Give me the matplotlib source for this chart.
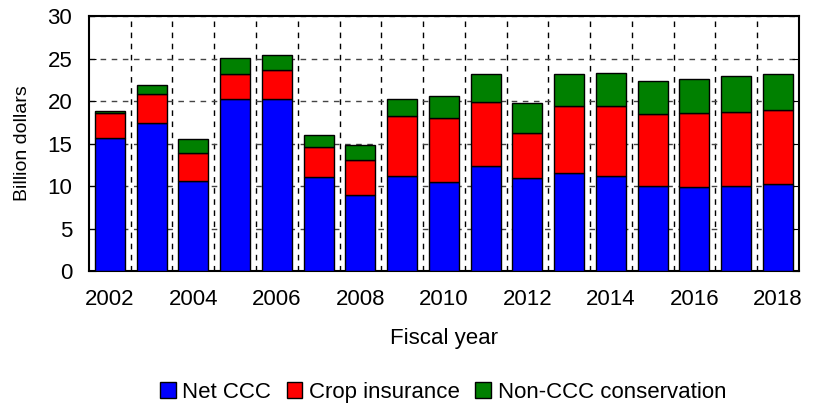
import numpy as np
import matplotlib.pyplot as plt
from matplotlib.ticker import MultipleLocator, FixedLocator

plt.rcParams['font.family'] = ['Liberation Sans', 'DejaVu Sans']

# Fiscal years and spending (billion dollars)
years = list(range(2002, 2019))
net_ccc = [15.65, 17.4, 10.6, 20.2, 20.2, 11.05, 9.0, 11.2, 10.5,
           12.4, 10.9, 11.5, 11.2, 10.0, 9.9, 10.0, 10.2]
crop_ins = [2.95, 3.4, 3.25, 3.0, 3.4, 3.55, 4.1, 7.05, 7.5,
            7.5, 5.3, 7.95, 8.25, 8.45, 8.7, 8.7, 8.7]
non_ccc = [0.25, 1.15, 1.65, 1.85, 1.8, 1.45, 1.75, 2.05, 2.6,
           3.3, 3.55, 3.75, 3.9, 3.9, 4.0, 4.2, 4.3]

fig = plt.figure(figsize=(8.16, 4.03), dpi=100)
ax = fig.add_axes([0.109, 0.3275, 0.870, 0.6325])

x = np.arange(len(years))
w = 0.72
b1 = np.array(net_ccc)
b2 = b1 + np.array(crop_ins)
ax.bar(x, net_ccc, w, color='#0000ff', edgecolor='black', linewidth=1, label='Net CCC', zorder=3)
ax.bar(x, crop_ins, w, bottom=b1, color='#ff0000', edgecolor='black', linewidth=1, label='Crop insurance', zorder=3)
ax.bar(x, non_ccc, w, bottom=b2, color='#008000', edgecolor='black', linewidth=1, label='Non-CCC conservation', zorder=3)

ax.set_xlim(-0.5, len(years) - 0.5)
ax.set_ylim(0, 30)
ax.yaxis.set_major_locator(MultipleLocator(5))
ax.set_xticks(x[::2])
ax.set_xticklabels([str(y) for y in years[::2]])
ax.xaxis.set_minor_locator(FixedLocator(x[:-1] + 0.5))

ax.grid(axis='y', which='major', linestyle=(0, (4, 4)), color='#444444', linewidth=1, zorder=0)
ax.grid(axis='x', which='minor', linestyle=(0, (4, 4)), color='black', linewidth=1, zorder=0)
ax.tick_params(axis='x', which='both', length=0, labelsize=16, pad=13)
ax.tick_params(axis='y', direction='in', length=5, right=True, labelsize=16, pad=12)

for s in ax.spines.values():
    s.set_linewidth(1.5)

ax.set_xlabel('Fiscal year', fontsize=16, labelpad=13)
ax.set_ylabel('Billion dollars', fontsize=14, labelpad=12)

fig.legend(loc='center', bbox_to_anchor=(0.543, 0.027), ncol=3, frameon=False,
           fontsize=16, handlelength=0.7, handleheight=0.7, handletextpad=0.3,
           columnspacing=0.7)

fig.savefig('out.png', dpi=100)
